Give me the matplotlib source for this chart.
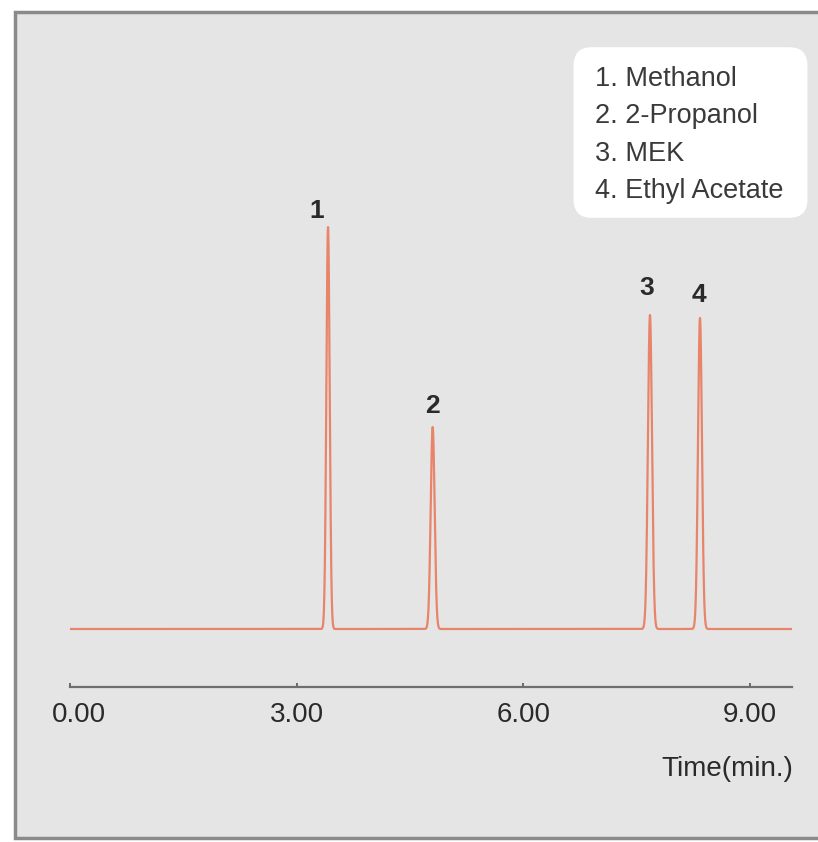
import numpy as np
import matplotlib
matplotlib.use("Agg")
import matplotlib.pyplot as plt
from matplotlib.patches import Rectangle, FancyBboxPatch
from matplotlib.transforms import ScaledTranslation

# ---- data ----
peak_labels = ["1", "2", "3", "4"]
peak_times = [3.415, 4.80, 7.676, 8.338]     # min
peak_heights = [402, 202, 314, 311]          # signal (arbitrary units)
peak_sigmas = [0.022, 0.026, 0.027, 0.026]   # min
compounds = ["1. Methanol", "2. 2-Propanol", "3. MEK", "4. Ethyl Acetate"]
tick_values = [0.0, 3.0, 6.0, 9.0]
tick_labels = ["0.00", "3.00", "6.00", "9.00"]
t_start, t_end = 0.0, 9.55

# label offsets (pixels) relative to peak tops
label_dx = [-11, 0, -3, -1]
label_dy = [9, 14, 20, 16]

W, H = 818, 842
fig = plt.figure(figsize=(W / 100, H / 100), dpi=100, facecolor="white")

fam = ["Liberation Sans", "DejaVu Sans"]
px = 72 / 100  # points per pixel

# panel background
panel = Rectangle((15 / W, (H - 838) / H), (W - 15) / W + 0.01, (838 - 12) / H,
                  transform=fig.transFigure, facecolor="#e5e5e5",
                  edgecolor="#8a8a8a", linewidth=2.5, zorder=-5)
fig.patches.append(panel)

# axes: x 70..792 px, bottom spine at y=687 px
x0_px, x9_px = 70, 750
px_per_min = (x9_px - x0_px) / 9.0
ax_left = x0_px / W
ax_w = (t_end - t_start) * px_per_min / W
ax_bottom = (H - 687) / H
ax_top = (H - 150) / H
ax = fig.add_axes([ax_left, ax_bottom, ax_w, ax_top - ax_bottom], zorder=1)
ax.set_facecolor("none")

t = np.linspace(t_start, t_end, 8000)
signal = np.zeros_like(t)
for tm, h, s in zip(peak_times, peak_heights, peak_sigmas):
    signal += h * np.exp(-0.5 * ((t - tm) / s) ** 2)

ax.plot(t, signal, color="#e8846a", linewidth=1.6, solid_joinstyle="round")

# baseline (signal 0) sits 58 px above the axis line
ax_h_px = 687 - 150
ax.set_ylim(-58, ax_h_px - 58)
ax.set_xlim(t_start, t_end)

for lab, tm, h, dx, dy in zip(peak_labels, peak_times, peak_heights, label_dx, label_dy):
    ax.annotate(lab, (tm, h), xytext=(dx * px, dy * px), textcoords="offset points",
                ha="center", va="baseline", fontsize=19, fontweight="bold",
                color="#2a2a2a", family=fam)

for side in ["top", "right", "left"]:
    ax.spines[side].set_visible(False)
ax.spines["bottom"].set_color("#6f6f6f")
ax.spines["bottom"].set_linewidth(1.6)
ax.set_yticks([])
ax.set_xticks(tick_values)
ax.set_xticklabels(tick_labels, family=fam, fontsize=20, color="#2a2a2a")
ax.tick_params(axis="x", direction="in", length=3, width=1.2, color="#555555", pad=11)
first = ax.get_xticklabels()[0]
first.set_transform(first.get_transform() + ScaledTranslation(9 / 100, 0, fig.dpi_scale_trans))

fig.text(793 / W, (H - 769) / H, "Time(min.)", ha="right", va="center",
         fontsize=20, color="#2a2a2a", family=fam)

# legend box
box = FancyBboxPatch((585 / W, (H - 206) / H), (796 - 585) / W, (206 - 59) / H,
                     boxstyle="round,pad=0.014,rounding_size=0.022",
                     transform=fig.transFigure, facecolor="white",
                     edgecolor="none", zorder=2)
fig.patches.append(box)
for i, name in enumerate(compounds):
    fig.text(595 / W, (H - (79 + 37.3 * i)) / H, name, ha="left", va="center",
             fontsize=19.5, color="#3a3a3a", family=fam, zorder=3)

fig.savefig("out.png", dpi=100, facecolor="white")
